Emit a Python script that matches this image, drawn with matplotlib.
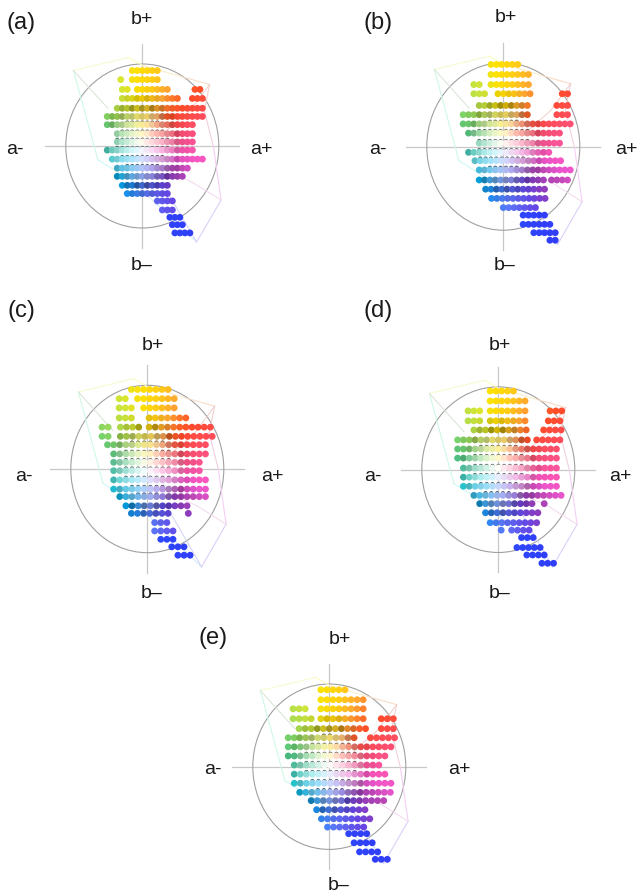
import numpy as np
import matplotlib
matplotlib.use("Agg")
import matplotlib.pyplot as plt
from matplotlib.patches import Ellipse

W, H = 637, 894
plt.rcParams['font.family'] = ['Liberation Sans', 'DejaVu Sans']

# ---- data: a*/b* rows (circle radius = 100) ----
# every row: b level, and (first, last) dot index along a, spaced by a step
step_a = 6.55
levels_a = [92, 81, 69, 58, 46, 36, 26, 15, 5, -5, -16, -27, -37, -48, -58, -67, -78, -87, -96, -106]
rows_a = [[(-2, 3)], [(-4.3, -4.3), (-2, 3)], [(-4, -3), (-1, 5), (10.5, 11.5)], [(-4, 7), (10, 12)],
          [(-5, 8), (9, 12)], [(-7, 12)], [(-7, 10)], [(-5, 10)], [(-5, -4), (-3, 10)], [(-7, 10.5)],
          [(-6, 12)], [(-5, 9)], [(-5, 8.5)], [(-4, 5)], [(-3, 5)], [(3, 6)], [(4, 6.5)], [(5.5, 7.5)],
          [(6, 8.5)], [(6.5, 9.5)]]

step_b = 7.0
levels_b = [98, 86, 74, 63, 49, 38, 27, 16, 4, -7, -17, -28, -40, -51, -62, -73, -82, -93, -103, -112]
rows_b = [[(-2.3, 3.1)], [(-2.3, 5.3)], [(-5.5, -4.5), (-2.3, 5.3)], [(-5.5, -3.5), (-1, 5), (11, 12)],
          [(-4.5, 5.3), (10, 12.5)], [(-7.5, 5.3), (10, 12.5)], [(-7.5, 12.5)], [(-6.5, 10.5)],
          [(-4.5, 10.5)], [(-6.5, 9.3)], [(-5.3, 11.5)], [(-4.5, 12.5)], [(-4.5, 8), (9, 12.5)],
          [(-3.3, 8)], [(-2.2, 7.8)], [(0, 6)], [(3.7, 7.8)], [(3.7, 8.8)], [(5.7, 10)], [(8.7, 10)]]

step_c = 8.0
levels_c = [95, 84, 73, 61, 50, 39, 29, 18, 8, -2, -13, -24, -33, -44, -53, -64, -74, -84, -93, -103]
rows_c = [[(-2.6, 3.4)], [(-4.6, -3.6), (-1.6, 5.3)], [(-4.6, -2.6), (-0.6, 5.3)],
          [(-4.6, -2.6), (0.3, 7)], [(-7.4, -6.4), (-4.4, -1.4), (0.3, 10.7)],
          [(-7.4, -6.4), (-4.4, 10.7)], [(-6.5, 10)], [(-5.5, 10)], [(-5.5, 8.8)], [(-5.5, 8.8)],
          [(-5.5, 10)], [(-5.5, 10)], [(-4.5, 10)], [(-3.5, 7)], [(-2.6, 4), (6.7, 6.7)], [(1.2, 4)],
          [(1.2, 5)], [(2.2, 5)], [(4, 6)], [(5, 7)]]

step_d = 7.6
levels_d = [95, 83, 71, 59, 48, 36, 25, 14, 2, -9, -20, -31, -41, -52, -64, -73, -82, -94, -103, -113]
rows_d = [[(-1.4, 2.6)], [(-1.4, 5.5)], [(-5.2, -3.2), (-1.4, 5.5), (8.9, 10.9)],
          [(-5.2, -3.2), (-1.4, 5.5), (8.6, 10.9)], [(-4.2, 5.5), (7.8, 10.9)], [(-7, 5.5), (6.6, 10.9)],
          [(-7, 10.3)], [(-7, 10)], [(-6, 10)], [(-6, 10)], [(-6, 10.9)], [(-4.2, 10.9)],
          [(-3.2, 6), (7.9, 7.9)], [(-2.2, 6.9)], [(-1.4, 6.9)], [(0.5, 0.5), (2.3, 5.8)], [(4, 6.9)],
          [(3.2, 7.8)], [(4.9, 8.6)], [(7.5, 9.5)]]

step_e = 7.9
levels_e = [93, 81, 70, 58, 46, 35, 24, 13, 2, -9, -20, -31, -41, -52, -63, -73, -81, -92, -103, -112]
rows_e = [[(-1.4, 2.6)], [(-1.4, 5.6)], [(-6, -4), (-1.4, 5.6)], [(-6, -3), (-1.4, 5.6), (8.6, 10.6)],
          [(-5, 6.5), (8.6, 10.6)], [(-6.8, -5.8), (-4.9, 4.6), (6.8, 10.9)], [(-6.8, 10.4)],
          [(-6.8, 9.8)], [(-5.8, 9)], [(-5.8, 9.8)], [(-5.8, 10.9)], [(-4.9, 10.9)], [(-3, 9.8)],
          [(-2.1, 6)], [(-1.3, 6.9)], [(-0.3, 6)], [(3.2, 6.9)], [(4.1, 7.9)], [(5, 8.7)], [(7.6, 9.6)]]

# gamut outline shared by all panels, a and b values
gamut_a = [-90, -18, 1, 50, 88, 81, 93, 103, 71, -14, -58, -90]
gamut_b = [92, 108, 98, 85, 75, 43, -1, -66, -117, -42, -17, 92]
gamut_colors = ['#f6fbd0', '#fdfdc0', '#fbeecb', '#f9dcc8', '#f5cfcf', '#f1d0e0', '#f6cff6',
                '#dccff8', '#d3ebfd', '#cdf8f6', '#cff9e4']
# spokes from the white point region to gamut corners
spoke_a = [[-90, -45], [88, 62, 32], [103, 65, 27], [71, 30]]
spoke_b = [[92, 46], [75, 43, 19], [-66, -44, -28], [-117, -52]]
spoke_colors = ['#d6e4d3', '#f0cdc9', '#f3d8ee', '#d0d0f5']

# hue stops: angle in the a-b plane, saturated colour there
hue_angles = [0, 15, 27, 42, 52, 65, 80, 95, 110, 130, 150, 170, 185, 200, 215, 235, 255, 275, 300, 315, 330, 340, 350, 360]
hue_r = [250, 252, 255, 255, 255, 255, 255, 255, 215, 170, 110, 70, 50, 50, 20, 0, 35, 90, 100, 140, 185, 235, 250, 250]
hue_g = [85, 80, 75, 75, 105, 165, 205, 225, 230, 220, 210, 195, 195, 215, 195, 175, 145, 120, 70, 60, 70, 85, 85, 85]
hue_b = [160, 120, 80, 40, 40, 50, 20, 0, 50, 80, 115, 140, 170, 215, 235, 245, 250, 250, 230, 190, 180, 205, 190, 160]

panels = [
    dict(levels=levels_a, rows=rows_a, step=step_a, cx=142.3, cy=146.0, ry=82.0, letter='(a)', lp=(21, 23),
         am=(15, 149), ap=(261, 149), bp=(142, 19), bm=(142, 265)),
    dict(levels=levels_b, rows=rows_b, step=step_b, cx=503.3, cy=146.5, ry=83.7, letter='(b)', lp=(378, 23),
         am=(378, 149), ap=(626, 149), bp=(506, 17), bm=(505, 266)),
    dict(levels=levels_c, rows=rows_c, step=step_c, cx=147.3, cy=469.0, ry=83.7, letter='(c)', lp=(21, 311),
         am=(24, 477), ap=(272, 476), bp=(153, 345), bm=(152, 593)),
    dict(levels=levels_d, rows=rows_d, step=step_d, cx=498.3, cy=469.7, ry=82.8, letter='(d)', lp=(378, 311),
         am=(373, 477), ap=(620, 477), bp=(500, 345), bm=(500, 593)),
    dict(levels=levels_e, rows=rows_e, step=step_e, cx=329.3, cy=766.7, ry=82.7, letter='(e)', lp=(213, 638),
         am=(213, 770), ap=(459, 770), bp=(340, 640), bm=(339, 886)),
]

RX = 76.5       # px for radius 100 along a
LIM = 135.0
AXIS_A, AXIS_B = 127, 124


def dot_colour(a, b, k):
    ang = np.degrees(np.arctan2(b, a)) % 360
    c = np.array([np.interp(ang, hue_angles, hue_r), np.interp(ang, hue_angles, hue_g),
                  np.interp(ang, hue_angles, hue_b)]) / 255
    r = np.hypot(a, b)
    if b < -78:
        c = 0.75 * np.array([30, 60, 255]) / 255 + 0.25 * c
    # muddy band at mid chroma near the axis, stronger on every second dot
    band = np.exp(-((r - 45) / 14) ** 2) * np.exp(-(a / 50) ** 2) * (0.4 if k % 2 else 0.2)
    c = c * (1 - band)
    # tint towards white near the neutral point
    w = np.clip(1 - r / 48, 0, 1) ** 0.7
    return c * (1 - w) + w * np.array([1, 1, 1])


fig = plt.figure(figsize=(W / 100, H / 100), dpi=100, facecolor='white')


def label(x, y, s, size=14):
    fig.text(x / W, 1 - y / H, s, ha='center', va='center', fontsize=size, color='#1a1a1a')


for p in panels:
    wpx, hpx = 2 * LIM * RX / 100, 2 * LIM * p['ry'] / 100
    ax = fig.add_axes([(p['cx'] - wpx / 2) / W, 1 - (p['cy'] + hpx / 2) / H, wpx / W, hpx / H])
    ax.set_xlim(-LIM, LIM)
    ax.set_ylim(-LIM, LIM)
    ax.axis('off')

    ax.plot([-AXIS_A, AXIS_A], [0, 0], color='#c8c8c8', lw=0.9, zorder=1)
    ax.plot([0, 0], [-AXIS_B, AXIS_B], color='#c8c8c8', lw=0.9, zorder=1)
    ax.add_patch(Ellipse((0, 0), 200, 200, fill=False, ec='#a0a0a0', lw=0.8, zorder=1))

    for i, col in enumerate(gamut_colors):
        ax.plot(gamut_a[i:i + 2], gamut_b[i:i + 2], color=col, lw=0.8, zorder=1.5)
    for xs, ys, col in zip(spoke_a, spoke_b, spoke_colors):
        ax.plot(xs, ys, color=col, lw=0.7, zorder=1.5)

    xs, ys, cols, dx, dy, dc = [], [], [], [], [], []
    for lev, segs in zip(p['levels'], p['rows']):
        for s, e in segs:
            for k, n in enumerate(np.arange(s, e + 0.01, 1.0)):
                a = n * p['step']
                col = dot_colour(a, lev, k + int(abs(lev)))
                xs.append(a)
                ys.append(lev)
                cols.append(col)
                if np.hypot(a, lev) < 36:
                    dx.append(a)
                    dy.append(lev + 2.6)
                    dc.append(col * 0.42)
    ax.scatter(dx, dy, s=9, c=dc, linewidths=0, zorder=2)
    ax.scatter(xs, ys, s=24, c=cols, linewidths=0, zorder=3)

    label(*p['lp'], p['letter'], size=17)
    label(*p['am'], 'a-')
    label(*p['ap'], 'a+')
    label(*p['bp'], 'b+')
    label(*p['bm'], 'b\u2013')

fig.savefig('out.png', dpi=100, facecolor='white')
